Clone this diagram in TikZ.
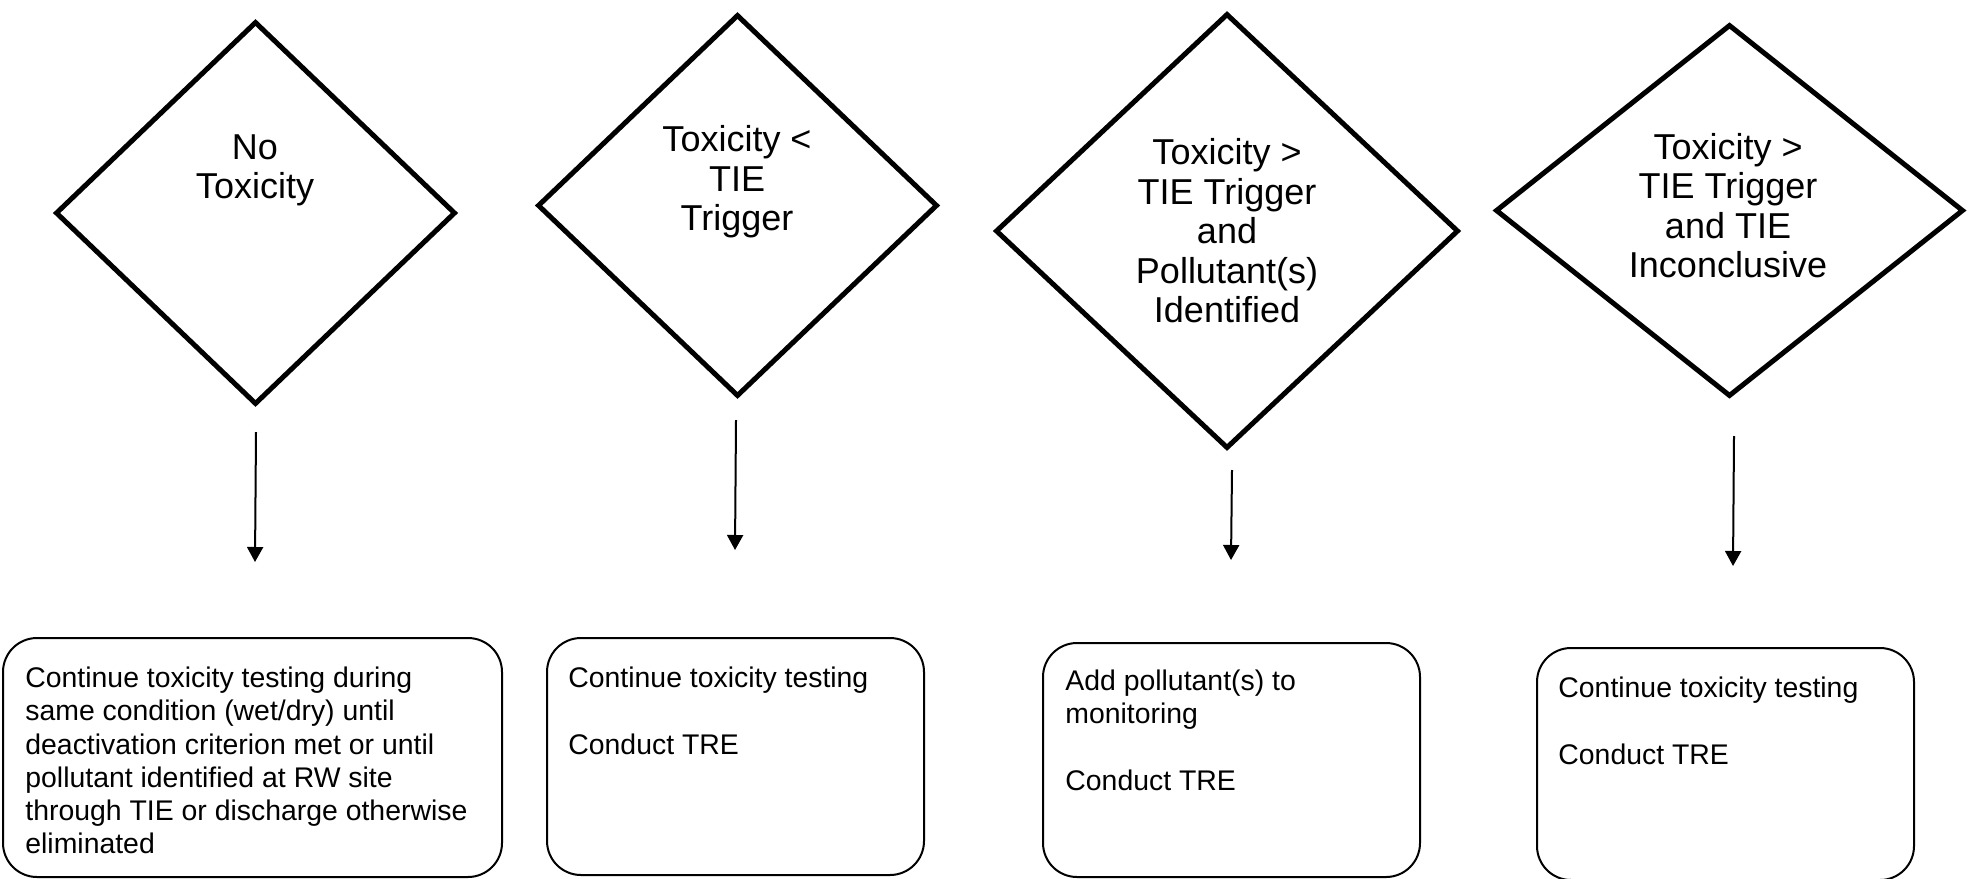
\documentclass[tikz,border=0pt]{standalone}
\usepackage{fontspec}
\setmainfont{Liberation Sans}
\usetikzlibrary{shapes.geometric,arrows.meta}
\begin{document}
\begin{tikzpicture}[x=0.5pt,y=-0.5pt,
  decision/.style={draw, line width=2.5pt, shape=diamond, inner sep=0pt},
  dtext/.style={align=center, inner sep=0pt, font=\fontsize{18}{19.75}\selectfont},
  outbox/.style={draw, line width=1pt, rounded corners=17pt, inner sep=0pt, shape=rectangle},
  btext/.style={align=left, anchor=north west, inner sep=0pt, font=\fontsize{14.2}{16.65}\selectfont},
  flow/.style={line width=1pt, -{Triangle[length=7.5pt,width=8pt]}}]
\useasboundingbox (0,0) rectangle (1969,878);

% decision diamonds
\node[decision, minimum width=200pt, minimum height=191.5pt] (d1) at (255.5,213) {};
\node[decision, minimum width=200pt, minimum height=191pt] (d2) at (737.5,205.5) {};
\node[decision, minimum width=231.5pt, minimum height=217.5pt] (d3) at (1227,231) {};
\node[decision, minimum width=234pt, minimum height=186pt] (d4) at (1729.5,210.5) {};

\node[dtext] (d1t) at (255,170.5) {No\\Toxicity};
\node[dtext] (d2t) at (737,182) {Toxicity <\\TIE\\Trigger};
\node[dtext] (d3t) at (1227,231) {Toxicity >\\TIE Trigger\\and\\Pollutant(s)\\Identified};
\node[dtext] (d4t) at (1728,205.5) {Toxicity >\\TIE Trigger\\and TIE\\Inconclusive};

% outcome boxes
\node[outbox, minimum width=249.5pt, minimum height=119.5pt] (b1) at (252.5,757.5) {};
\node[outbox, minimum width=188.5pt, minimum height=118.5pt] (b2) at (735.5,756.5) {};
\node[outbox, minimum width=188.5pt, minimum height=117pt] (b3) at (1231.5,760) {};
\node[outbox, minimum width=188.5pt, minimum height=116pt] (b4) at (1725.5,764) {};

\node[btext] (b1t) at (25,666.5) {Continue toxicity testing during\\same condition (wet/dry) until\\deactivation criterion met or until\\pollutant identified at RW site\\through TIE or discharge otherwise\\eliminated};
\node[btext] (b2t) at (568,666.5) {Continue toxicity testing\\[16.65pt]Conduct TRE};
\node[btext] (b3t) at (1065,669.5) {Add pollutant(s) to\\monitoring\\[16.65pt]Conduct TRE};
\node[btext] (b4t) at (1558,676.5) {Continue toxicity testing\\[16.65pt]Conduct TRE};

% connectors
\coordinate (s1) at (256,432);  \coordinate (e1) at (255,562);
\coordinate (s2) at (736,420);  \coordinate (e2) at (735,550);
\coordinate (s3) at (1232,470); \coordinate (e3) at (1231,560);
\coordinate (s4) at (1734,436); \coordinate (e4) at (1733,566);
\draw[flow] (s1) -- (e1);
\draw[flow] (s2) -- (e2);
\draw[flow] (s3) -- (e3);
\draw[flow] (s4) -- (e4);
\end{tikzpicture}
\end{document}
